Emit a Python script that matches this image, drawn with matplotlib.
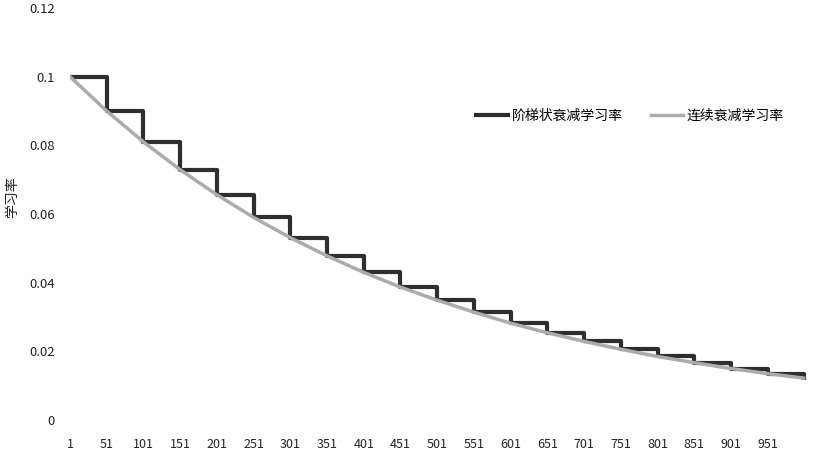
import matplotlib
matplotlib.use("Agg")
import matplotlib.pyplot as plt

plt.rcParams['font.family'] = ['Noto Sans CJK SC', 'DejaVu Sans']

# step boundaries (iteration) and learning-rate levels
step_starts = [1, 51, 101, 151, 201, 251, 301, 351, 401, 451,
               501, 551, 601, 651, 701, 751, 801, 851, 901, 951]
stair_lr = [0.1, 0.09, 0.081, 0.0729, 0.0656, 0.059, 0.0531, 0.0478, 0.043, 0.0387,
            0.0349, 0.0314, 0.0282, 0.0254, 0.0229, 0.0206, 0.0185, 0.0167, 0.015, 0.0135]
last_iter = 1000
last_lr = 0.0122

# continuous decay sampled at the same iterations
cont_x = step_starts + [last_iter]
cont_lr = [0.1, 0.09, 0.081, 0.0729, 0.0656, 0.059, 0.0531, 0.0478, 0.043, 0.0387,
           0.0349, 0.0314, 0.0282, 0.0254, 0.0229, 0.0206, 0.0185, 0.0167, 0.015, 0.0135,
           0.0122]

xtick_labels = [str(v) for v in step_starts]
yticks = [0, 0.02, 0.04, 0.06, 0.08, 0.1, 0.12]
ytick_labels = ['0', '0.02', '0.04', '0.06', '0.08', '0.1', '0.12']

fig = plt.figure(figsize=(8.24, 4.74), dpi=100)
ax = fig.add_axes([70 / 824, 54 / 474, 741 / 824, 412 / 474])

ax.step(step_starts + [last_iter], stair_lr + [last_lr], where='post',
        color='#2e2e2e', lw=3, label='阶梯状衰减学习率', zorder=2)
ax.plot(cont_x, cont_lr, color='#ababab', lw=2.5, label='连续衰减学习率', zorder=3)

ax.set_xlim(1, 1010)
ax.set_ylim(0, 0.12)
ax.set_xticks(step_starts)
ax.set_xticklabels(xtick_labels, fontsize=9, color='#222222')
ax.set_yticks(yticks)
ax.set_yticklabels(ytick_labels, fontsize=9.5, color='#222222')
ax.tick_params(axis='x', length=0, pad=13)
ax.tick_params(axis='y', length=0, pad=11)
for s in ax.spines.values():
    s.set_visible(False)

fig.text(12 / 824, 1 - 197 / 474, '学习率', rotation=90, fontsize=10,
         ha='center', va='center', color='#222222')

handles, labels = ax.get_legend_handles_labels()
fig.legend(handles, labels, ncol=2, frameon=False, fontsize=10,
           loc='center', bbox_to_anchor=(630 / 824, 1 - 116 / 474),
           handlelength=2.3, handletextpad=0.3, columnspacing=2.0)

fig.savefig('out.png', dpi=100)
